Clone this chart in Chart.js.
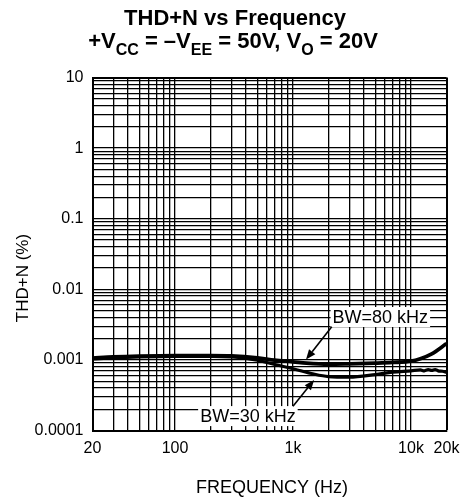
<!DOCTYPE html>
<html><head><meta charset="utf-8">
<script src="https://cdn.jsdelivr.net/npm/chart.js@4/dist/chart.umd.min.js"></script>
<style>html,body{margin:0;padding:0;background:#fff;}</style>
</head><body>
<canvas id="c" width="471" height="503" style="display:block;width:471px;height:503px"></canvas>
<script>
const FONT = "'Liberation Sans', Arial, Helvetica, sans-serif";

// ---- data ----
const seriesNames = ['BW=80 kHz', 'BW=30 kHz'];
const freq80 = [20, 30, 50, 100, 200, 300, 500, 700, 1000, 1300, 2000, 3000, 5000, 7000, 10000, 12000, 15000, 20000];
const thd80  = [0.00106, 0.0011, 0.00113, 0.00115, 0.00115, 0.00114, 0.00107, 0.00099, 0.00094, 0.0009, 0.00087, 0.00088, 0.0009, 0.00092, 0.00096, 0.00104, 0.00122, 0.0017];
const freq30 = [20, 30, 50, 100, 200, 300, 400, 500, 700, 1000, 1500, 2000, 3000, 5000, 7000, 10000, 12000, 13000, 14000, 15000, 16000, 17000, 18500, 20000];
const thd30  = [0.00103, 0.00107, 0.0011, 0.00112, 0.00112, 0.0011, 0.00105, 0.00099, 0.00086, 0.00075, 0.00063, 0.00058, 0.00057, 0.00062, 0.00067, 0.0007, 0.00072, 0.0007, 0.00073, 0.00071, 0.00073, 0.0007, 0.00069, 0.00067];

const xGridValues = [20, 30, 40, 50, 60, 70, 80, 90, 100, 200, 300, 400, 500, 600, 700, 800, 900, 1000, 2000, 3000, 4000, 5000, 6000, 7000, 8000, 9000, 10000, 20000];
const yGridValues = [0.0001, 0.0002, 0.0003, 0.0004, 0.0005, 0.0006, 0.0007, 0.0008, 0.0009,
  0.001, 0.002, 0.003, 0.004, 0.005, 0.006, 0.007, 0.008, 0.009,
  0.01, 0.02, 0.03, 0.04, 0.05, 0.06, 0.07, 0.08, 0.09,
  0.1, 0.2, 0.3, 0.4, 0.5, 0.6, 0.7, 0.8, 0.9,
  1, 2, 3, 4, 5, 6, 7, 8, 9, 10];
const xLabelValues = [20, 100, 1000, 10000, 20000];
const xLabelTexts  = ['20', '100', '1k', '10k', '20k'];
const yLabelValues = [0.0001, 0.001, 0.01, 0.1, 1, 10];
const yLabelTexts  = ['0.0001', '0.001', '0.01', '0.1', '1', '10'];

const titleLine1 = 'THD+N vs Frequency';
// [text, isSubscript]
const titleLine2 = [['+V', false], ['CC', true], [' = \u2013V', false], ['EE', true], [' = 50V, V', false], ['O', true], [' = 20V', false]];
const xTitle = 'FREQUENCY (Hz)';
const yTitle = 'THD+N (%)';

// annotation anchors in data coordinates
const noteText   = ['BW=80 kHz', 'BW=30 kHz'];
const noteCenter = [[5500, 0.00405], [415, 0.00016]];
const arrowTail  = [[2130, 0.00295], [1000, 0.00022]];
const arrowTip   = [[1290, 0.00101], [1510, 0.00052]];

function pts(fs, vs) { return fs.map((f, i) => ({x: f, y: vs[i]})); }

const decor = {
  id: 'decor',
  beforeDatasetsDraw(chart) {
    const {ctx, scales: {x, y}} = chart;
    ctx.save();
    ctx.font = '18px ' + FONT;
    ctx.textAlign = 'center';
    ctx.textBaseline = 'middle';
    noteText.forEach((t, i) => {
      const cx = x.getPixelForValue(noteCenter[i][0]);
      const cy = y.getPixelForValue(noteCenter[i][1]);
      const w = ctx.measureText(t).width + 4;
      ctx.fillStyle = '#fff';
      ctx.fillRect(cx - w / 2, cy - 10, w, 20);
      ctx.fillStyle = '#000';
      ctx.fillText(t, cx, cy + 1);
    });
    ctx.restore();
  },
  afterDatasetsDraw(chart) {
    const {ctx, scales: {x, y}} = chart;
    ctx.save();
    ctx.strokeStyle = '#000';
    ctx.fillStyle = '#000';
    ctx.lineWidth = 1.6;
    arrowTail.forEach((tl, i) => {
      const x0 = x.getPixelForValue(tl[0]), y0 = y.getPixelForValue(tl[1]);
      const x1 = x.getPixelForValue(arrowTip[i][0]), y1 = y.getPixelForValue(arrowTip[i][1]);
      const a = Math.atan2(y1 - y0, x1 - x0);
      const L = 10, W = 4;
      const bx = x1 - L * Math.cos(a), by = y1 - L * Math.sin(a);
      ctx.beginPath(); ctx.moveTo(x0, y0); ctx.lineTo(bx, by); ctx.stroke();
      ctx.beginPath();
      ctx.moveTo(x1, y1);
      ctx.lineTo(bx + W * Math.sin(a), by - W * Math.cos(a));
      ctx.lineTo(bx - W * Math.sin(a), by + W * Math.cos(a));
      ctx.closePath(); ctx.fill();
    });
    ctx.restore();
  },
  afterDraw(chart) {
    const {ctx} = chart;
    ctx.save();
    ctx.fillStyle = '#000';
    ctx.textBaseline = 'alphabetic';
    // title line 1
    ctx.font = 'bold 22px ' + FONT;
    ctx.textAlign = 'center';
    ctx.fillText(titleLine1, 235, 25);
    // title line 2 with subscripts
    ctx.textAlign = 'left';
    let total = 0;
    const widths = titleLine2.map(([t, sub]) => {
      ctx.font = (sub ? 'bold 16px ' : 'bold 22px ') + FONT;
      const w = ctx.measureText(t).width; total += w; return w;
    });
    let px = 233 - total / 2;
    titleLine2.forEach(([t, sub], i) => {
      ctx.font = (sub ? 'bold 16px ' : 'bold 22px ') + FONT;
      ctx.fillText(t, px, sub ? 55 : 48);
      px += widths[i];
    });
    // axis titles
    ctx.font = '18px ' + FONT;
    ctx.textAlign = 'center';
    ctx.textBaseline = 'middle';
    ctx.fillText(xTitle, 272, 488);
    ctx.translate(23, 278);
    ctx.rotate(-Math.PI / 2);
    ctx.font = '17px ' + FONT;
    ctx.fillText(yTitle, 0, 0);
    ctx.restore();
  }
};

new Chart(document.getElementById('c'), {
  type: 'line',
  data: {
    datasets: [
      {label: seriesNames[0], data: pts(freq80, thd80), borderColor: '#000', borderWidth: 3.8, pointRadius: 0, cubicInterpolationMode: 'monotone', fill: false},
      {label: seriesNames[1], data: pts(freq30, thd30), borderColor: '#000', borderWidth: 3.2, pointRadius: 0, cubicInterpolationMode: 'monotone', fill: false}
    ]
  },
  options: {
    responsive: false,
    devicePixelRatio: 1,
    animation: false,
    layout: {padding: {left: 0, right: 24.5, top: 77.5, bottom: 0}},
    plugins: {legend: {display: false}, title: {display: false}, tooltip: {enabled: false}},
    scales: {
      x: {
        type: 'logarithmic', min: 20, max: 20000,
        afterBuildTicks: s => { s.ticks = xGridValues.map(v => ({value: v})); },
        afterFit: s => { s.height = 72.5; },
        ticks: {
          autoSkip: false, maxRotation: 0, padding: 8, color: '#000',
          font: {family: FONT, size: 16},
          callback: v => { const i = xLabelValues.indexOf(v); return i >= 0 ? xLabelTexts[i] : ''; }
        },
        grid: {color: '#000', lineWidth: c => (c.tick && (c.tick.value === 20000) ? 2 : 1.3), drawTicks: false},
        border: {color: '#000', width: 2}
      },
      y: {
        type: 'logarithmic', min: 0.0001, max: 10,
        afterBuildTicks: s => { s.ticks = yGridValues.map(v => ({value: v})); },
        afterFit: s => { s.width = 92.5; },
        ticks: {
          autoSkip: false, padding: 9, color: '#000',
          font: {family: FONT, size: 16},
          callback: v => { const i = yLabelValues.findIndex(w => Math.abs(w - v) < w * 1e-6); return i >= 0 ? yLabelTexts[i] : ''; }
        },
        grid: {color: '#000', lineWidth: c => (c.tick && Math.abs(c.tick.value - 10) < 1e-6 ? 2 : 1.3), drawTicks: false},
        border: {color: '#000', width: 2}
      }
    }
  },
  plugins: [decor]
});
</script>
</body></html>
